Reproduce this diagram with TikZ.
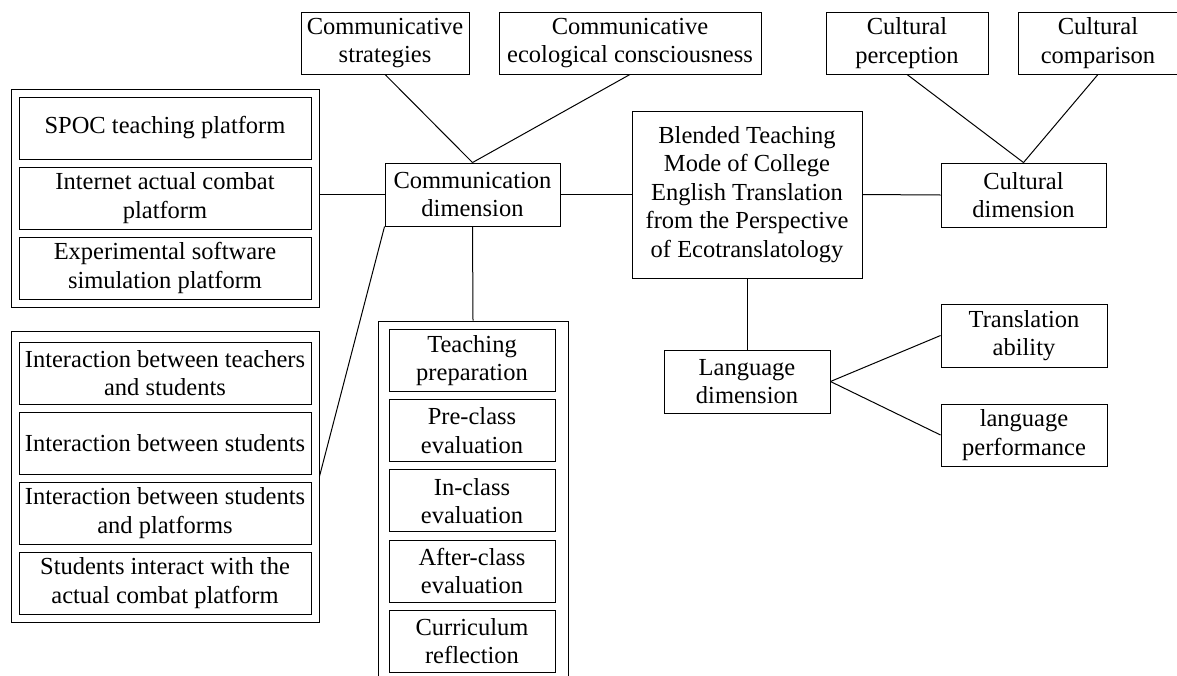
\documentclass[tikz,border=0pt]{standalone}
\usepackage{fontspec}
\setmainfont{Liberation Serif}

\begin{document}
\begin{tikzpicture}[x=1pt, y=-1pt,
        box/.style={draw, line width=0.9pt, align=center, inner sep=0pt, minimum height=62pt, font=\fontsize{24.5}{28.5}\selectfont},
        link/.style={line width=1pt}]
    \useasboundingbox (0,0) rectangle (1177,675);

    % centre and dimensions
    \node[box, minimum width=230pt, minimum height=167pt] (mode) at (747,194.5) {Blended Teaching\\Mode of College\\English Translation\\from the Perspective\\of Ecotranslatology};
    \node[box, minimum width=175pt, minimum height=63pt] (comm) at (472.5,194.5) {Communication\\dimension};
    \node[box, minimum width=165pt, minimum height=64pt] (cult) at (1023.5,195) {Cultural\\dimension};
    \node[box, minimum width=166pt, minimum height=63pt] (lang) at (747,381.5) {Language\\dimension};

    % top row
    \node[box, minimum width=168pt] (strat) at (385,43) {Communicative\\strategies};
    \node[box, minimum width=262pt] (eco) at (630,43) {Communicative\\ecological consciousness};
    \node[box, minimum width=162pt] (percep) at (907,43) {Cultural\\perception};
    \node[box, minimum width=160pt] (compar) at (1098,43) {Cultural\\comparison};

    % language branches
    \node[box, minimum width=166pt, minimum height=63pt] (trans) at (1024,335.5) {Translation\\ability};
    \node[box, minimum width=166pt] (perf) at (1024,435) {language\\performance};

    % platforms
    \node[box, minimum width=308pt, minimum height=218pt] (plat) at (165,198) {};
    \foreach \i/\txt in {0/{SPOC teaching platform}, 1/{Internet actual combat\\platform}, 2/{Experimental software\\simulation platform}} {
        \node[box, minimum width=292pt] (plat\i) at (165,128+70*\i) {\txt};
    }

    % interactions
    \node[box, minimum width=308pt, minimum height=291pt] (inter) at (165,476.5) {};
    \foreach \i/\txt in {0/{Interaction between teachers\\and students}, 1/{Interaction between students}, 2/{Interaction between students\\and platforms}, 3/{Students interact with the\\actual combat platform}} {
        \node[box, minimum width=292pt] (inter\i) at (165,373+70*\i) {\txt};
    }

    % evaluation (runs off the bottom)
    \node[box, minimum width=190pt, minimum height=362pt] (eval) at (473,502) {};
    \foreach \i/\txt in {0/{Teaching\\preparation}, 1/{Pre-class\\evaluation}, 2/{In-class\\evaluation}, 3/{After-class\\evaluation}, 4/{Curriculum\\reflection}} {
        \node[box, minimum width=166pt] (eval\i) at (472,360.5+70.2*\i) {\txt};
    }

    % connectors
    \draw[link] (strat.south) -- (comm.north);
    \draw[link] (eco.south) -- (comm.north);
    \draw[link] (comm.west) -- (comm.west -| plat.east);
    \draw[link] (comm.south west) -- (inter.east);
    \draw[link] (comm.south) -- (eval.north);
    \draw[link] (comm.east) -- (mode.west);
    \draw[link] (mode.east) -- (cult.west);
    \draw[link] (percep.south) -- (cult.north);
    \draw[link] (compar.south) -- (cult.north);
    \draw[link] (mode.south) -- (lang.north);
    \draw[link] (lang.east) -- (trans.west);
    \draw[link] (lang.east) -- (perf.west);
\end{tikzpicture}
\end{document}
